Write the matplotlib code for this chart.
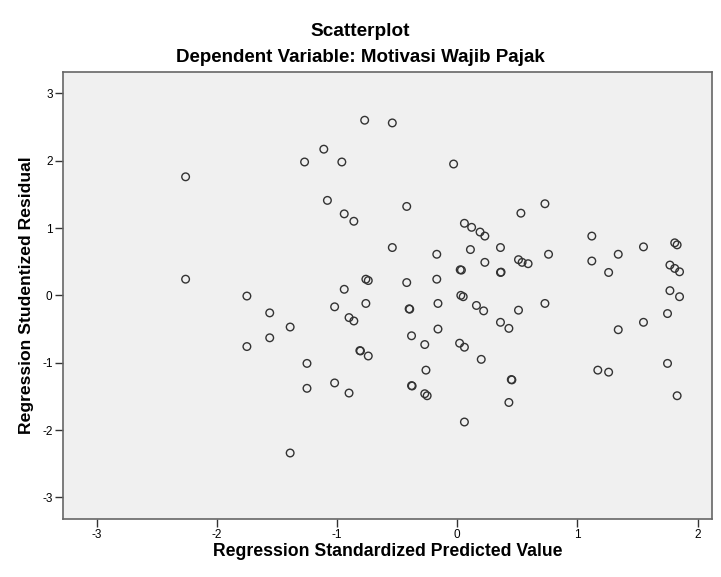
import matplotlib
matplotlib.use("Agg")
import matplotlib.pyplot as plt

plt.rcParams['font.family'] = ['Liberation Sans', 'DejaVu Sans']

pred = [-2.26, -2.26, -1.75, -1.56, -1.56, -1.75,
        -0.77, -0.54, -1.11, -1.27, -0.96, -0.03, -1.08, -0.42, -0.94, -0.86,
        0.06, 0.12, 0.19, 0.23, -0.54, -0.17, 0.11, 0.23, 0.025, 0.035,
        -0.17, -0.42, -0.76, -0.74, -0.94, 0.03, 0.05,
        0.73, 0.53, 1.12, 1.81, 1.83, 0.36, 1.55, 0.51, 0.54, 0.59, 0.76,
        1.12, 1.34, 1.26, 0.36, 0.365, 1.77, 1.81, 1.85, 1.77, 1.85,
        0.73, 0.16, 0.22, 0.51, 0.36, 0.43, 1.34, 1.55, 1.75, 0.20,
        1.17, 1.26, 1.75, 0.45, 0.455, 1.83, 0.43,
        -1.39, -1.02, -0.76, -0.90, -0.86, -0.40, -0.395, -0.16, -0.38, -0.16,
        -0.27, 0.02, 0.06, -1.25, -0.81, -0.805, -0.74, -0.26, -1.25, -1.02,
        -0.90, -0.38, -0.375, -0.27, -0.25, 0.06, -1.39]
resid = [1.76, 0.24, -0.01, -0.26, -0.63, -0.76,
         2.60, 2.56, 2.17, 1.98, 1.98, 1.95, 1.41, 1.32, 1.21, 1.10,
         1.07, 1.01, 0.94, 0.88, 0.71, 0.61, 0.68, 0.49, 0.38, 0.375,
         0.24, 0.19, 0.24, 0.22, 0.09, 0.00, -0.02,
         1.36, 1.22, 0.88, 0.78, 0.75, 0.71, 0.72, 0.53, 0.49, 0.47, 0.61,
         0.51, 0.61, 0.34, 0.34, 0.345, 0.45, 0.40, 0.35, 0.07, -0.02,
         -0.12, -0.15, -0.23, -0.22, -0.40, -0.49, -0.51, -0.40, -0.27, -0.95,
         -1.11, -1.14, -1.01, -1.25, -1.255, -1.49, -1.59,
         -0.47, -0.17, -0.12, -0.33, -0.38, -0.20, -0.205, -0.12, -0.60, -0.50,
         -0.73, -0.71, -0.77, -1.01, -0.82, -0.825, -0.90, -1.11, -1.38, -1.30,
         -1.45, -1.34, -1.345, -1.46, -1.49, -1.88, -2.34]

xticks = [-3, -2, -1, 0, 1, 2]
yticks = [-3, -2, -1, 0, 1, 2, 3]

fig = plt.figure(figsize=(7.21, 5.77), dpi=100)
ax = fig.add_axes([0.0874, 0.1005, 0.9001, 0.7752])
ax.set_facecolor('#f0f0f0')
ax.scatter(pred, resid, s=30, facecolors='none', edgecolors='#333333', linewidths=1.0)

ax.set_xlim(-3.28, 2.12)
ax.set_ylim(-3.32, 3.32)
ax.set_xticks(xticks)
ax.set_yticks(yticks)
ax.set_xticklabels([str(t) for t in xticks])
ax.set_yticklabels([str(t) for t in yticks])
for side in ['top', 'right', 'left', 'bottom']:
    ax.spines[side].set_color('#666666')
    ax.spines[side].set_linewidth(1.2)
ax.tick_params(axis='both', direction='out', length=6, width=1, color='#333333',
               labelsize=8.5, pad=1.5)
ax.tick_params(top=False, right=False)

ax.set_xlabel('Regression Standardized Predicted Value', fontsize=12.7, fontweight='bold', labelpad=1)
ax.set_ylabel('Regression Studentized Residual', fontsize=12.6, fontweight='bold', labelpad=6)

fig.text(0.5, 1 - 32/577, 'Scatterplot', ha='center', va='center', fontsize=13.7, fontweight='bold')
fig.text(0.5, 1 - 57/577, 'Dependent Variable: Motivasi Wajib Pajak', ha='center', va='center',
         fontsize=13.5, fontweight='bold')

fig.savefig('out.png', dpi=100, facecolor='white')
